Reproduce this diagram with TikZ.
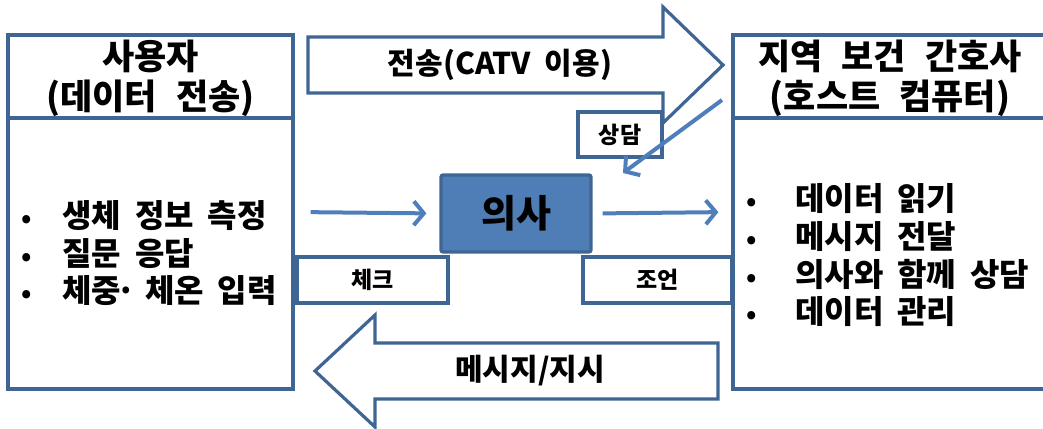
\documentclass[tikz,border=0pt]{standalone}
\usepackage{fontspec}
\setmainfont{Noto Sans CJK KR}
\usetikzlibrary{arrows.meta}
\definecolor{edge}{HTML}{3F6594}
\definecolor{arr}{HTML}{4F7FBA}
\definecolor{docfill}{HTML}{4F7DB5}
\newcommand{\bul}{{\fontsize{26}{26}\selectfont •}}
\newcommand{\ttlfont}{\fontsize{35}{40}\selectfont\bfseries\spaceskip 19pt\relax}
\newcommand{\arrfont}{\fontsize{30}{36}\selectfont\bfseries\spaceskip 14pt\relax}
\newcommand{\lstfont}{\fontsize{32}{36}\selectfont\bfseries\spaceskip 14pt\relax}
\begin{document}
\begin{tikzpicture}[x=1pt,y=-1pt,
  box/.style={draw=edge, line width=3.2pt, fill=white, inner sep=0pt},
  blockarrow/.style={draw=edge, line width=3.2pt, fill=white, line join=miter},
  conn/.style={draw=arr, line width=4pt, -{Straight Barb[length=10pt,width=24pt]}},
  ttl/.style={font=\ttlfont, align=center, inner sep=0pt},
  arrt/.style={font=\arrfont, inner sep=0pt},
  lst/.style={font=\lstfont, align=left, anchor=west, inner sep=0pt},
  small/.style={font=\fontsize{23}{26}\selectfont\bfseries}
]
\useasboundingbox (0,0) rectangle (1043,428);
\clip (0,0) rectangle (1043,428);

% user box
\node[box, minimum width=285pt, minimum height=354pt] (user) at (150.5,212) {};
\draw[edge, line width=3.2pt] (user.west |- 0,118) -- (user.east |- 0,118);
\node[ttl] (usert) at (150.5,78) {사용자\\(데이터 전송)};
\node[lst] (userl) at (21,257) {\begin{tabular}{@{}p{41pt}@{}l@{}}\bul&생체 정보 측정\\\bul&질문 응답\\\bul&체중\makebox[10pt][c]{·} 체온 입력\end{tabular}};

% nurse box
\node[box, minimum width=314pt, minimum height=354pt] (nurse) at (890,212) {};
\draw[edge, line width=3.2pt] (nurse.west |- 0,118) -- (nurse.east |- 0,118);
\node[ttl] (nurset) at (890,78) {지역 보건 간호사\\(호스트 컴퓨터)};
\node[lst] (nursel) at (746,259) {\begin{tabular}{@{}p{49pt}@{}l@{}}\bul&데이터 읽기\\\bul&메시지 전달\\\bul&의사와 함께 상담\\\bul&데이터 관리\end{tabular}};

% top block arrow
\draw[blockarrow] (308,37) -- (663,37) -- (663,7) -- (723,65) -- (663,123) -- (663,93) -- (308,93) -- cycle;
\node[arrt] (sendt) at (500,65) {전송(CATV 이용)};

% bottom block arrow
\draw[blockarrow] (718,343) -- (375,343) -- (375,315) -- (315,371) -- (375,427) -- (375,399) -- (718,399) -- cycle;
\node[arrt] (msgt) at (530,371) {메시지/지시};

% consult box
\node[box, minimum width=84pt, minimum height=45pt, small] (consult) at (620,134.5) {상담};
\coordinate (cfrom) at (722,100);
\coordinate (cto) at (623,173);
\draw[conn] (cfrom) -- (cto);

% doctor
\node[draw=edge, line width=3.2pt, fill=docfill, rounded corners=2pt, minimum width=150pt, minimum height=77pt, inner sep=0pt, font=\fontsize{38}{40}\selectfont\bfseries] (doc) at (516,213.5) {의사};

% check / advice
\node[box, minimum width=151pt, minimum height=46pt, small] (check) at (372.5,280) {체크};
\node[box, minimum width=149pt, minimum height=46pt, small] (advice) at (657.5,280) {조언};

% connectors
\draw[conn, shorten <=16pt, shorten >=13pt] (user.east) -- (doc.west);
\draw[conn, shorten <=10pt, shorten >=13pt] (doc.east) -- (nurse.west);
\end{tikzpicture}
\end{document}
